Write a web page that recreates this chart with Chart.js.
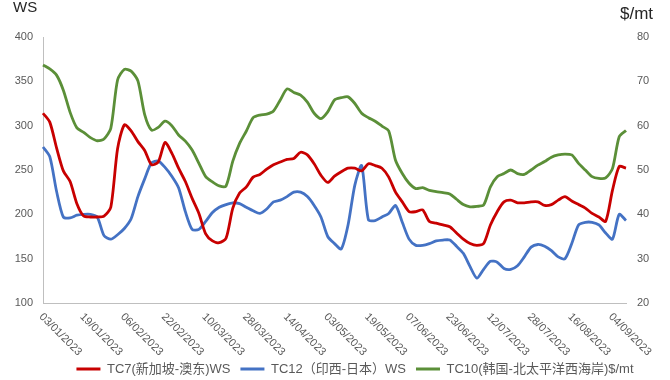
<!DOCTYPE html>
<html>
<head>
<meta charset="utf-8">
<script src="https://cdn.jsdelivr.net/npm/chart.js@4.4.0/dist/chart.umd.min.js"></script>
<style>
  html, body { margin: 0; padding: 0; background: #fff; }
  #chart { display: block; }
</style>
</head>
<body>
<canvas id="chart" width="670" height="380"></canvas>
<script>
// Tanker freight rates 2023: TC7 / TC12 in WS (left axis), TC10 in $/mt (right axis)

// date shown under the axis every 6 points (one point = 2 trading days)
const tickDates = ['03/01/2023', '19/01/2023', '06/02/2023', '22/02/2023', '10/03/2023',
  '28/03/2023', '14/04/2023', '03/05/2023', '19/05/2023', '07/06/2023', '23/06/2023',
  '12/07/2023', '28/07/2023', '16/08/2023', '04/09/2023'];

// TC7 Singapore - East Australia, WS
const tc7 = [314, 304, 275, 249, 237, 212, 198, 197, 197, 198,
  208, 274, 301, 294, 282, 272, 256, 259, 281, 269,
  252, 237, 218, 201, 178, 170, 168, 173, 207, 224,
  231, 242, 245, 251, 256, 259, 262, 263, 270, 267,
  257, 244, 236, 243, 248, 252, 252, 249, 257, 255,
  252, 242, 225, 214, 203, 203, 205, 192, 190, 188,
  186, 179, 172, 167, 165, 167, 188, 203, 214, 216,
  213, 213, 214, 214, 210, 211, 216, 220, 215, 211,
  207, 201, 197, 192, 227, 254, 252];

// TC12 West India - Japan, WS
const tc12 = [276, 265, 226, 197, 196, 199, 200, 200, 197, 176,
  172, 177, 184, 195, 220, 240, 258, 260, 253, 243,
  230, 203, 183, 183, 192, 202, 208, 211, 213, 212,
  208, 204, 201, 206, 214, 216, 220, 225, 225, 220,
  210, 197, 175, 167, 161, 188, 233, 255, 194, 193,
  197, 201, 210, 191, 172, 165, 165, 167, 170, 171,
  171, 164, 156, 141, 128, 138, 147, 146, 139, 138,
  142, 152, 163, 166, 164, 159, 152, 150, 167, 188,
  191, 191, 188, 179, 172, 200, 193];

// TC10 South Korea - North Pacific West Coast, $/mt
const tc10 = [73.7, 72.8, 71.4, 68.0, 63.0, 59.5, 58.5, 57.3, 56.6, 57.0,
  59.4, 70.3, 72.7, 72.3, 70.1, 62.5, 59.0, 59.6, 61.0, 60.0,
  57.9, 56.5, 54.5, 51.5, 48.5, 47.3, 46.4, 46.4, 52.0, 56.0,
  58.8, 61.8, 62.4, 62.6, 63.3, 65.8, 68.3, 67.5, 66.9, 65.3,
  62.8, 61.6, 63.1, 65.8, 66.3, 66.5, 65.0, 62.8, 61.8, 61.0,
  59.9, 58.8, 52.2, 49.2, 47.0, 45.8, 46.0, 45.4, 45.1, 44.9,
  44.6, 43.4, 42.2, 41.7, 41.8, 42.1, 46.2, 48.5, 49.2, 50.0,
  49.2, 49.0, 50.0, 51.1, 51.9, 52.9, 53.4, 53.6, 53.4, 51.5,
  50.0, 48.5, 48.1, 48.2, 50.3, 57.5, 58.9];

const seriesNames = ['TC7(新加坡-澳东)WS', 'TC12（印西-日本）WS', 'TC10(韩国-北太平洋西海岸)$/mt'];
const seriesColors = ['#c80000', '#4472c4', '#5b8f38'];
const unitLeft = 'WS';
const unitRight = '$/mt';

const POINTS_PER_TICK = 6;
const labels = tc7.map((_, i) => (i % POINTS_PER_TICK === 0 && tickDates[i / POINTS_PER_TICK]) || '');

const GREY = '#595959';
const FONT = "'Liberation Sans', 'Noto Sans CJK SC', sans-serif";

// rotated dates (reading down-right like the original) + unit captions
const extraText = {
  id: 'extraText',
  afterLayout(chart) {
    // the original legend sits a bit lower and right of centre
    const lg = chart.legend;
    lg.top += 5.5; lg.bottom += 5.5;
    lg.left += 20; lg.right += 20;
  },
  afterDraw(chart) {
    const ctx = chart.ctx;
    const xs = chart.scales.x;
    ctx.save();
    ctx.fillStyle = GREY;
    ctx.font = '11px ' + FONT;
    ctx.textAlign = 'left';
    ctx.textBaseline = 'middle';
    tickDates.forEach((d, k) => {
      const px = xs.getPixelForValue(k * POINTS_PER_TICK);
      ctx.save();
      ctx.translate(px - 2, xs.top + 12);
      ctx.rotate(Math.PI / 4);
      ctx.fillText(d, 0, 0);
      ctx.restore();
    });
    ctx.fillStyle = '#262626';
    ctx.textBaseline = 'alphabetic';
    ctx.font = '15px ' + FONT;
    ctx.fillText(unitLeft, 13, 12);
    ctx.font = '17px ' + FONT;
    ctx.fillText(unitRight, 620, 19);
    ctx.restore();
  }
};

function makeSet(i, data, axis) {
  return {
    label: seriesNames[i],
    data: data,
    yAxisID: axis,
    borderColor: seriesColors[i],
    backgroundColor: seriesColors[i],
    borderWidth: 2.8,
    pointRadius: 0,
    tension: 0.25,
    fill: false
  };
}

new Chart(document.getElementById('chart'), {
  type: 'line',
  data: {
    labels: labels,
    datasets: [makeSet(0, tc7, 'y'), makeSet(1, tc12, 'y'), makeSet(2, tc10, 'y1')]
  },
  options: {
    responsive: false,
    animation: false,
    devicePixelRatio: 1,
    layout: { padding: { top: 37, bottom: 0, left: 0, right: 0 } },
    plugins: {
      legend: {
        position: 'bottom',
        labels: {
          usePointStyle: true,
          pointStyle: 'line',
          pointStyleWidth: 24,
          boxWidth: 24,
          padding: 10,
          color: GREY,
          font: { size: 13, family: FONT }
        }
      },
      tooltip: { enabled: false }
    },
    scales: {
      x: {
        grid: { display: false, drawTicks: false },
        border: { display: true, color: '#bfbfbf', width: 1 },
        ticks: { display: false, autoSkip: false },
        afterFit: s => { s.height = 44; }
      },
      y: {
        position: 'left',
        min: 100,
        max: 400,
        ticks: { stepSize: 50, color: GREY, padding: 10, font: { size: 11, family: FONT } },
        grid: { display: false, drawTicks: false },
        border: { display: true, color: '#bfbfbf', width: 1 },
        afterFit: s => { s.width = 43; }
      },
      y1: {
        position: 'right',
        min: 20,
        max: 80,
        ticks: { stepSize: 10, color: GREY, padding: 11, font: { size: 11, family: FONT } },
        grid: { display: false, drawTicks: false },
        border: { display: false },
        afterFit: s => { s.width = 44; }
      }
    }
  },
  plugins: [extraText]
});
</script>
</body>
</html>
